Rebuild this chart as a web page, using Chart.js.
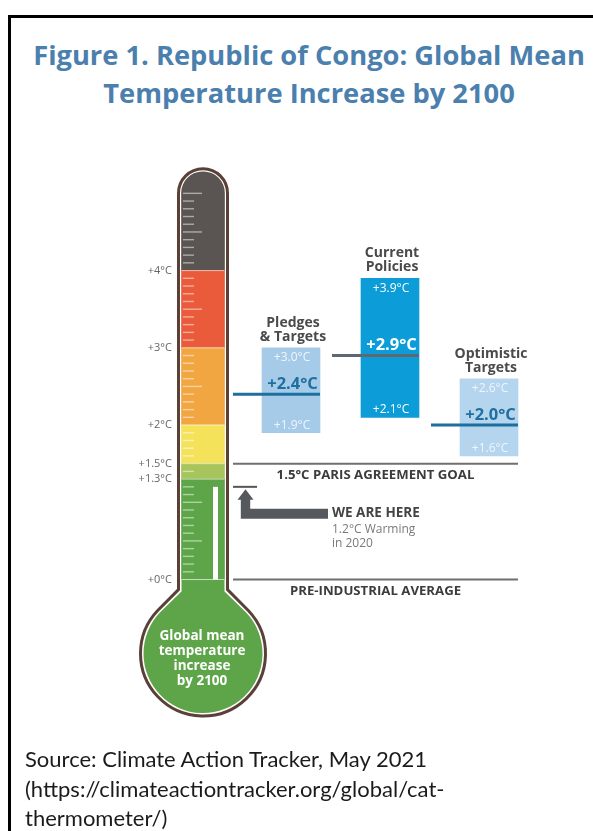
<!DOCTYPE html>
<html>
<head>
<meta charset="utf-8">
<title>Republic of Congo: Global Mean Temperature Increase by 2100</title>
<script src="https://cdn.jsdelivr.net/npm/chart.js@4.4.1/dist/chart.umd.min.js"></script>
<style>
  html, body { margin: 0; padding: 0; background: #fff; }
  body { width: 593px; height: 831px; position: relative; overflow: hidden; }
  .frame { position: absolute; left: 8px; top: 15px; width: 700px; height: 900px;
           border-top: 3px solid #000; border-left: 3px solid #000; }
  .title { position: absolute; left: 11px; width: 596px; top: 36px; text-align: center;
           font: bold 27.3px/37.5px "Open Sans", sans-serif; color: #4b7fae; white-space: nowrap; }
  .source { position: absolute; left: 25px; top: 744px;
            font: 22px/29.5px Lato, sans-serif; color: #1b1b1b; white-space: nowrap; }
  canvas { position: absolute; top: 127px; }
  #thermo { left: 0; }
  #scenarios { left: 220px; }
</style>
</head>
<body>
<div class="frame"></div>
<div class="title">Figure 1. Republic of Congo: Global Mean<br>Temperature Increase by 2100</div>
<canvas id="thermo" width="300" height="627"></canvas>
<canvas id="scenarios" width="340" height="627"></canvas>
<div class="source">Source: Climate Action Tracker, May 2021<br>(https://climateactiontracker.org/global/cat-<br>thermometer/)</div>

<script>
// thermometer bands (°C above pre-industrial)
const bandEdges = [0, 1.3, 1.5, 2, 3, 4, 5.28];
const bandColors = ['#5ea54a', '#a7c55c', '#f4e25b', '#f1a642', '#ea5b3b', '#5a5553'];
const thermoTicks = [0, 1.3, 1.5, 2, 3, 4];
const warming2020 = 1.2;
const parisGoal = 1.5;

// warming by 2100 per scenario
const scenarioNames = [['Pledges', '& Targets'], ['Current', 'Policies'], ['Optimistic', 'Targets']];
const scenarioLow = [1.9, 2.1, 1.6];
const scenarioHigh = [3.0, 3.9, 2.6];
const scenarioMedian = [2.4, 2.9, 2.0];

const scenarioColors = ['#a6cbe9', '#0c9dd8', '#b5d5ef'];
const medianLineColors = ['#1d6f9e', '#5e6872', '#1d6f9e'];
const medianTextColors = ['#1f6f9f', '#ffffff', '#1f6f9f'];
const rangeTextColors = ['#eef5fb', '#ffffff', '#eef5fb'];

Chart.defaults.font.family = '"Open Sans", sans-serif';

function fmt(v) {
  return '+' + v.toFixed(1) + '°C';
}

function tubePath(ctx, cx, top, hw, neckY, cy, r) {
  const a = 0.76;
  ctx.beginPath();
  ctx.arc(cx, top + hw, hw, Math.PI, 0);
  ctx.lineTo(cx + hw, neckY);
  ctx.lineTo(cx + r * Math.cos(a), cy - r * Math.sin(a));
  ctx.arc(cx, cy, r, -a, Math.PI + a);
  ctx.lineTo(cx - hw, neckY);
  ctx.closePath();
}

const thermoPlugin = {
  id: 'thermo',
  beforeDatasetsDraw(chart) {
    const ctx = chart.ctx;
    const y = chart.scales.y;
    const bar = chart.getDatasetMeta(0).data[0];
    const cx = bar.x, hw = bar.width / 2;
    const zero = y.getPixelForValue(0);
    const top = y.getPixelForValue(bandEdges[bandEdges.length - 1]);
    ctx.save();
    tubePath(ctx, cx, top - 3, hw + 3, zero + 10, zero + 74, 62.5);
    ctx.fillStyle = '#fff';
    ctx.fill();
    ctx.lineWidth = 3;
    ctx.strokeStyle = '#5b4038';
    ctx.stroke();
    // green bulb below the zero line
    ctx.beginPath();
    ctx.rect(cx - 90, zero, 180, 200);
    ctx.clip();
    tubePath(ctx, cx, top, hw, zero + 12, zero + 74, 59.5);
    ctx.fillStyle = bandColors[0];
    ctx.fill();
    ctx.restore();
  },
  afterDatasetsDraw(chart) {
    const ctx = chart.ctx;
    const y = chart.scales.y;
    const bar = chart.getDatasetMeta(0).data[0];
    const cx = bar.x, hw = bar.width / 2;
    const zero = y.getPixelForValue(0);
    ctx.save();
    // thin lines between bands
    ctx.strokeStyle = 'rgba(255,255,255,0.6)';
    ctx.lineWidth = 1;
    bandEdges.slice(0, -1).forEach((v) => {
      const py = y.getPixelForValue(v);
      ctx.beginPath();
      ctx.moveTo(cx - hw, py);
      ctx.lineTo(cx + hw, py);
      ctx.stroke();
    });
    // scale marks every 0.1 °C
    ctx.strokeStyle = 'rgba(255,255,255,0.5)';
    ctx.lineWidth = 1.4;
    for (let k = 1; k <= 50; k++) {
      const v = k / 10;
      if (bandEdges.some((e) => Math.abs(e - v) < 0.01)) continue;
      const py = y.getPixelForValue(v);
      const len = k % 5 === 0 ? 19 : 11;
      ctx.beginPath();
      ctx.moveTo(cx - hw + 1.5, py);
      ctx.lineTo(cx - hw + 1.5 + len, py);
      ctx.stroke();
    }
    // current warming marker
    const wy = y.getPixelForValue(warming2020);
    ctx.fillStyle = '#fff';
    ctx.fillRect(cx + 10, wy, 5, zero - wy);
    // bulb text
    ctx.fillStyle = '#fff';
    ctx.font = 'bold 13.5px "Open Sans"';
    ctx.textAlign = 'center';
    ctx.textBaseline = 'middle';
    ['Global mean', 'temperature', 'increase', 'by 2100'].forEach((t, i) => {
      ctx.fillText(t, cx - 1, zero + 57 + i * 15);
    });
    ctx.restore();
  }
};

const scenarioPlugin = {
  id: 'scenarios',
  afterDatasetsDraw(chart) {
    const ctx = chart.ctx;
    const y = chart.scales.y;
    const bars = chart.getDatasetMeta(0).data;
    const w = bars[0].width;
    const x0 = bars[0].x - w;
    const x1 = bars[bars.length - 1].x + w / 2;
    ctx.save();
    ctx.textAlign = 'center';
    ctx.textBaseline = 'middle';

    bars.forEach((b, i) => {
      const top = y.getPixelForValue(scenarioHigh[i]);
      const bottom = y.getPixelForValue(scenarioLow[i]);
      const my = y.getPixelForValue(scenarioMedian[i]);
      ctx.strokeStyle = medianLineColors[i];
      ctx.lineWidth = 3;
      ctx.beginPath();
      ctx.moveTo(b.x - w, my);
      ctx.lineTo(b.x + w / 2, my);
      ctx.stroke();

      ctx.fillStyle = rangeTextColors[i];
      ctx.font = '12px "Open Sans"';
      ctx.fillText(fmt(scenarioHigh[i]), b.x + 1, top + 10);
      ctx.fillText(fmt(scenarioLow[i]), b.x + 1, bottom - 7.5);

      ctx.fillStyle = medianTextColors[i];
      ctx.font = 'bold 16.5px "Open Sans"';
      ctx.fillText(fmt(scenarioMedian[i]), b.x + 1.5, my - 10);

      ctx.fillStyle = '#4a4a4a';
      ctx.font = 'bold 14px "Open Sans"';
      ctx.fillText(scenarioNames[i][0], b.x + 2, top - 25);
      ctx.fillText(scenarioNames[i][1], b.x + 2, top - 11);
    });

    // reference lines
    const mid = (x0 + x1) / 2;
    ctx.strokeStyle = '#6f6f6f';
    ctx.lineWidth = 2;
    ctx.fillStyle = '#3c3c3c';
    ctx.font = 'bold 13.2px "Open Sans"';
    [[parisGoal, '1.5°C PARIS AGREEMENT GOAL'], [0, 'PRE-INDUSTRIAL AVERAGE']].forEach(([v, label]) => {
      const py = y.getPixelForValue(v);
      ctx.beginPath();
      ctx.moveTo(x0, py);
      ctx.lineTo(x1, py);
      ctx.stroke();
      ctx.fillText(label, mid, py + 12);
    });

    // we are here
    const wy = y.getPixelForValue(warming2020);
    ctx.strokeStyle = '#555';
    ctx.beginPath();
    ctx.moveTo(x0, wy);
    ctx.lineTo(x0 + 24, wy);
    ctx.stroke();

    ctx.fillStyle = '#55595d';
    ctx.beginPath();
    ctx.moveTo(x0 + 12.5, wy + 2.5);
    ctx.lineTo(x0 + 20.5, wy + 13);
    ctx.lineTo(x0 + 17.2, wy + 13);
    ctx.lineTo(x0 + 17.2, wy + 22);
    ctx.lineTo(x0 + 95, wy + 22);
    ctx.lineTo(x0 + 95, wy + 32);
    ctx.lineTo(x0 + 7.8, wy + 32);
    ctx.lineTo(x0 + 7.8, wy + 13);
    ctx.lineTo(x0 + 4.5, wy + 13);
    ctx.closePath();
    ctx.fill();

    ctx.textAlign = 'left';
    ctx.fillStyle = '#444';
    ctx.font = 'bold 13.5px "Open Sans"';
    ctx.fillText('WE ARE HERE', x0 + 99, wy + 26.5);
    ctx.fillStyle = '#7a7a7a';
    ctx.font = '12px "Open Sans"';
    ctx.fillText(warming2020.toFixed(1) + '°C Warming', x0 + 99, wy + 42.5);
    ctx.fillText('in 2020', x0 + 99, wy + 56.5);
    ctx.restore();
  }
};

new Chart(document.getElementById('thermo'), {
  type: 'bar',
  data: {
    labels: ['thermometer'],
    datasets: bandColors.map((c, i) => ({
      data: [[bandEdges[i], bandEdges[i + 1]]],
      backgroundColor: c,
      barThickness: 43,
      grouped: false,
      borderSkipped: false,
      borderRadius: i === bandColors.length - 1
        ? { topLeft: 21.5, topRight: 21.5, bottomLeft: 0, bottomRight: 0 }
        : 0
    }))
  },
  options: {
    responsive: false,
    animation: false,
    layout: { padding: { left: 0, right: 71, top: 20, bottom: 20 } },
    plugins: { legend: { display: false }, tooltip: { enabled: false } },
    scales: {
      x: { display: false },
      y: {
        min: -2,
        max: 5.6,
        afterFit(scale) { scale.width = 177; },
        afterBuildTicks(scale) { scale.ticks = thermoTicks.map((v) => ({ value: v })); },
        grid: { display: false, drawTicks: false },
        border: { display: false },
        ticks: {
          autoSkip: false,
          padding: 5,
          color: '#666',
          font: { size: 11 },
          callback: (v) => '+' + v + '°C'
        }
      }
    }
  },
  plugins: [thermoPlugin]
});

new Chart(document.getElementById('scenarios'), {
  type: 'bar',
  data: {
    labels: scenarioNames.map((n) => n.join(' ')),
    datasets: [{
      data: scenarioLow.map((lo, i) => [lo, scenarioHigh[i]]),
      backgroundColor: scenarioColors,
      barThickness: 58
    }]
  },
  options: {
    responsive: false,
    animation: false,
    layout: { padding: { left: 21.5, right: 21.5, top: 20, bottom: 20 } },
    plugins: { legend: { display: false }, tooltip: { enabled: false } },
    scales: {
      x: { display: false },
      y: { display: false, min: -2, max: 5.6 }
    }
  },
  plugins: [scenarioPlugin]
});
</script>
</body>
</html>
